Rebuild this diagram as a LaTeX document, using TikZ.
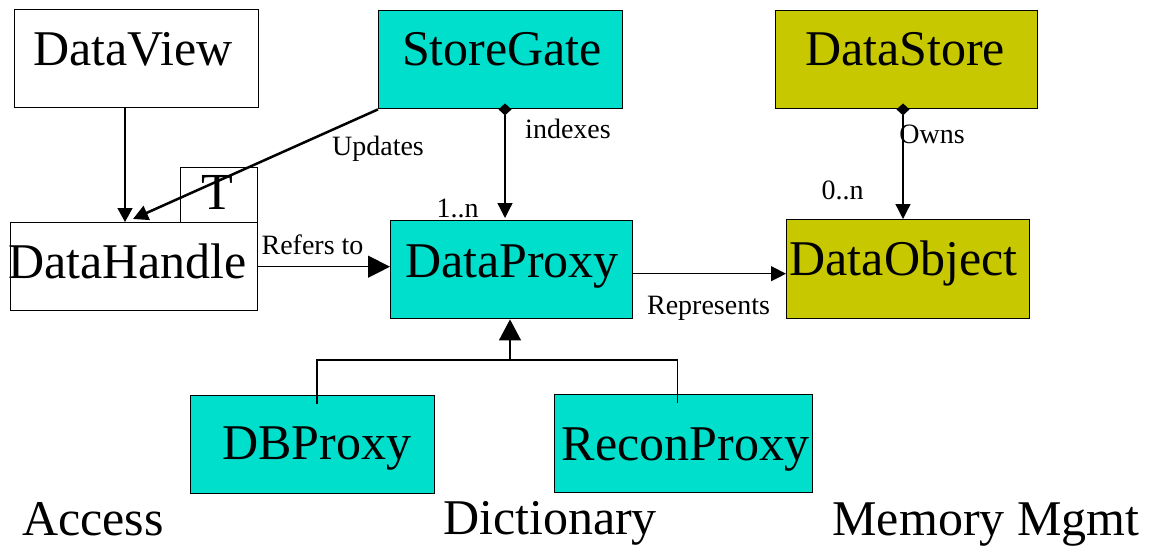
\documentclass[tikz,border=0pt]{standalone}
\usepackage{fontspec}
\setmainfont{Liberation Serif}
\usetikzlibrary{arrows.meta}
\definecolor{tealbox}{RGB}{0,222,204}
\definecolor{olivebox}{RGB}{200,200,0}
\begin{document}
\begin{tikzpicture}[x=1pt,y=-1pt,
  box/.style={draw,line width=1.4pt,inner sep=0pt,anchor=north west},
  big/.style={font=\fontsize{50}{60}\selectfont,anchor=base,inner sep=0pt},
  small/.style={font=\fontsize{28}{34}\selectfont,anchor=base,inner sep=0pt},
  conn/.style={line width=1.3pt},
  dia/.style={{Diamond[width=13pt,length=12pt]}-{Triangle[width=15pt,length=15pt]}},
]
\useasboundingbox (0,0) rectangle (1149,546);
% boxes
\node[box,fill=white,minimum width=244pt,minimum height=98pt] (DataView) at (14,9) {};
\node[box,fill=tealbox,minimum width=244pt,minimum height=98pt] (StoreGate) at (378,10) {};
\node[box,fill=olivebox,minimum width=262pt,minimum height=98pt] (DataStore) at (775,10) {};
\node[box,fill=white,minimum width=77pt,minimum height=55pt] (Tbox) at (180,167) {};
\node[box,fill=white,minimum width=247pt,minimum height=88pt] (DataHandle) at (10,222) {};
\node[box,fill=tealbox,minimum width=242pt,minimum height=98pt] (DataProxy) at (390,220) {};
\node[box,fill=olivebox,minimum width=243pt,minimum height=99pt] (DataObject) at (786,219) {};
\node[box,fill=tealbox,minimum width=244pt,minimum height=98pt] (DBProxy) at (190,395) {};
\node[box,fill=tealbox,minimum width=258pt,minimum height=98pt] (ReconProxy) at (554,394) {};
% box texts
\node[big] (tDataView) at (133,65) {DataView};
\node[big] (tStoreGate) at (502,65) {StoreGate};
\node[big] (tDataStore) at (905,65) {DataStore};
\node[big,font=\fontsize{52}{60}\selectfont] (tT) at (217.5,209) {T};
\node[big] (tDataHandle) at (127.5,278) {DataHandle};
\node[big] (tDataProxy) at (512,277) {DataProxy};
\node[big] (tDataObject) at (903.5,275) {DataObject};
\node[big] (tDBProxy) at (317,459) {DBProxy};
\node[big] (tReconProxy) at (685.5,460) {ReconProxy};
% section titles
\node[big] (tAccess) at (93,535) {Access};
\node[big] (tDictionary) at (550,534) {Dictionary};
\node[big] (tMemory) at (986,535) {Memory Mgmt};
% connectors
\draw[conn,-{Triangle[width=15pt,length=14pt]}] ([xshift=111pt]DataView.south west) -- ([xshift=115pt]DataHandle.north west);
\draw[line width=2.5pt,-{Triangle[width=15pt,length=15pt]}] (StoreGate.south west) -- ([xshift=123pt,yshift=3pt]DataHandle.north west);
\draw[conn,dia] ([xshift=127pt,yshift=6pt]StoreGate.south west) -- ([xshift=115pt,yshift=2pt]DataProxy.north west);
\draw[conn,dia] ([xshift=128pt,yshift=6pt]DataStore.south west) -- ([xshift=117pt]DataObject.north west);
\draw[conn,-{Triangle[width=22pt,length=22pt]}] (DataHandle.east) -- (DataHandle.east -| DataProxy.west);
\draw[conn,-{Triangle[width=15pt,length=15pt]}] ([yshift=-4pt]DataProxy.east) -- ([yshift=-4pt]DataProxy.east -| DataObject.west);
\coordinate (junc) at (510,360);
\draw[conn] ([xshift=127pt,yshift=-9pt]DBProxy.north west) |- (junc);
\draw[conn] ([xshift=123.5pt,yshift=-9pt]ReconProxy.north west) |- (junc);
\draw[conn,-{Triangle[width=22pt,length=21pt]}] (junc) -- (junc |- DataProxy.south);
% connector labels
\node[small] (lUpdates) at (378,155) {Updates};
\node[small] (lIndexes) at (568,138) {indexes};
\node[small] (lOneN) at (457.5,217) {1..n};
\node[small] (lOwns) at (932,143) {Owns};
\node[small] (lZeroN) at (842.5,199) {0..n};
\node[small] (lRefers) at (312.5,254) {Refers to};
\node[small] (lRepresents) at (708.5,314) {Represents};
\end{tikzpicture}
\end{document}
